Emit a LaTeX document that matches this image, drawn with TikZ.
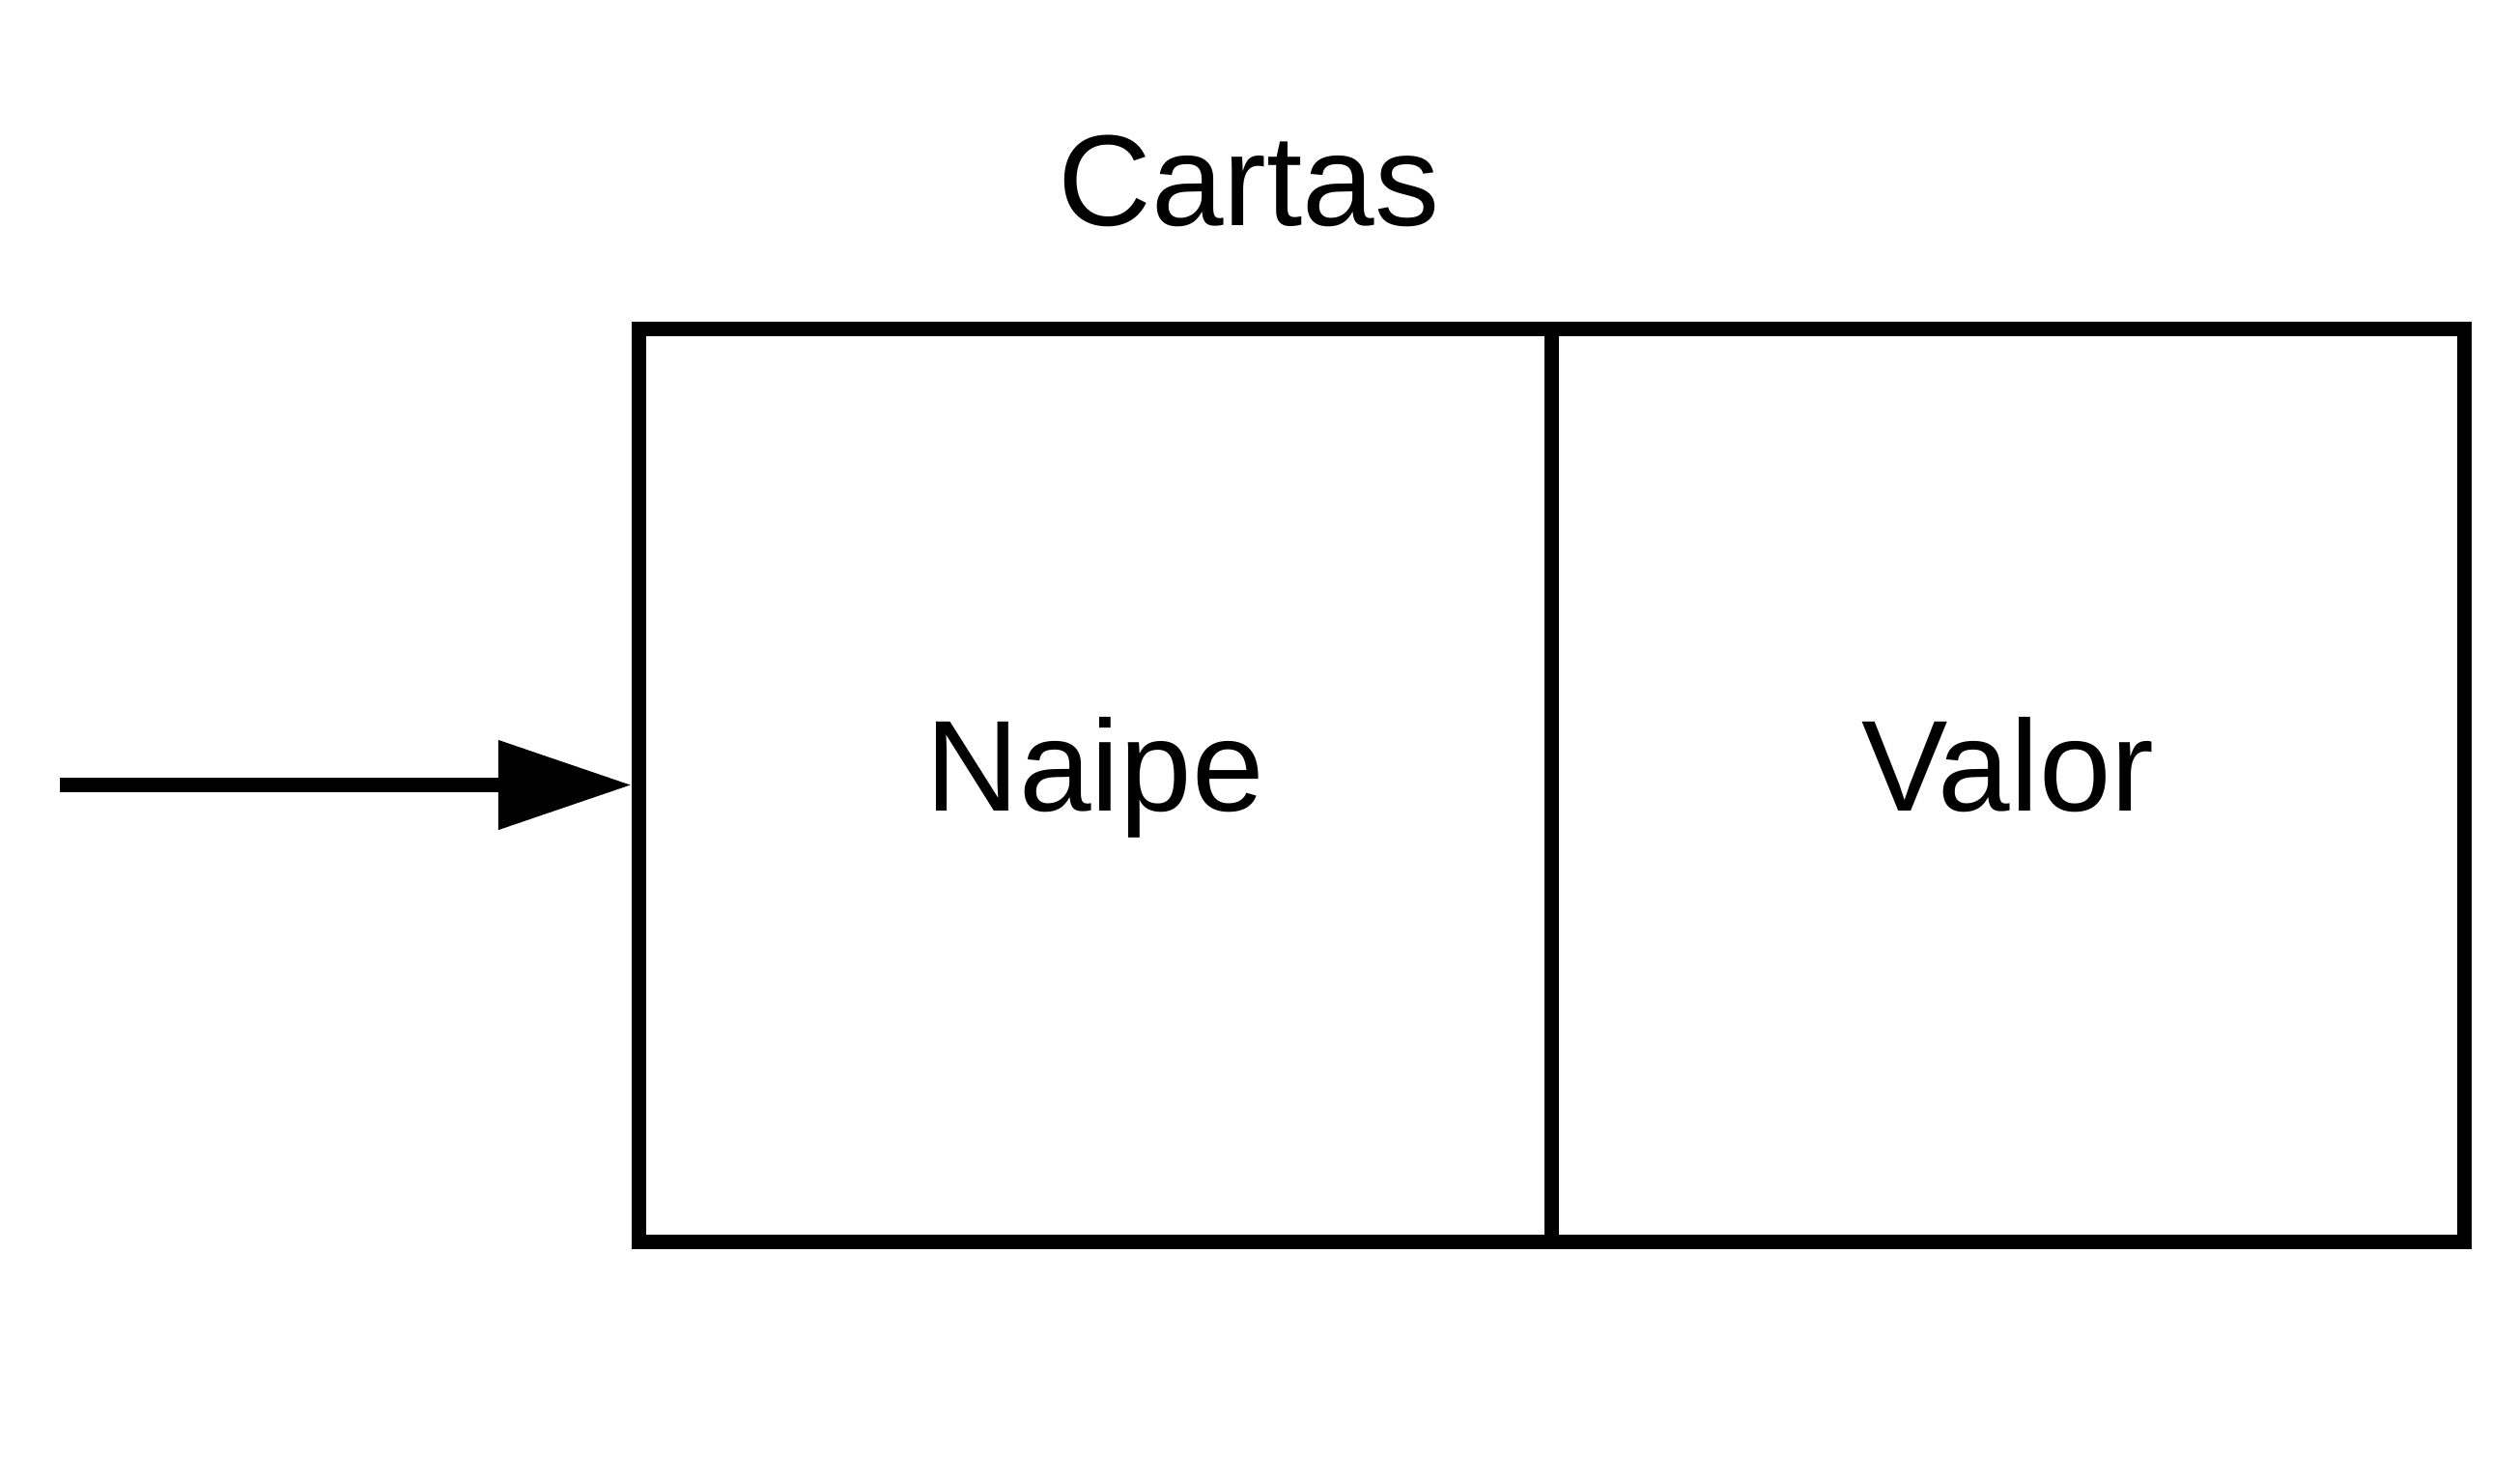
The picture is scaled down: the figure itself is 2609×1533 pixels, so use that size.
\documentclass[tikz,border=0pt]{standalone}
\usepackage{fontspec}
\setmainfont{Liberation Sans}
\usepackage{tikz}
\usetikzlibrary{
  positioning,
  arrows.meta
}
\tikzset{
  ->,
  >={Triangle[length=34.5pt, width=22.25pt]},
  cell/.style={draw, line width=3.75pt, outer sep=0pt,
    minimum width=236.25pt, minimum height=236.25pt,
    text height=24pt, text depth=10.75pt},
  title/.style={anchor=base}
}

\begin{document}
\begin{tikzpicture}[x=0.25pt, y=-0.25pt, font=\fontsize{33.5}{40}\selectfont]
    \useasboundingbox (0,0) rectangle (2609,1533);
    \node[cell] (naipe) at (1133.75,812.5) {Naipe};
    \node[cell, right=0pt of naipe] (valor) {Valor};
    \node[title] (cartas) at (1293,233) {Cartas};
    \coordinate (start) at (62,812.5);
    \draw[line width=3.75pt, shorten >=1.875pt] (start) -- (naipe.west);
  \end{tikzpicture}
\end{document}
